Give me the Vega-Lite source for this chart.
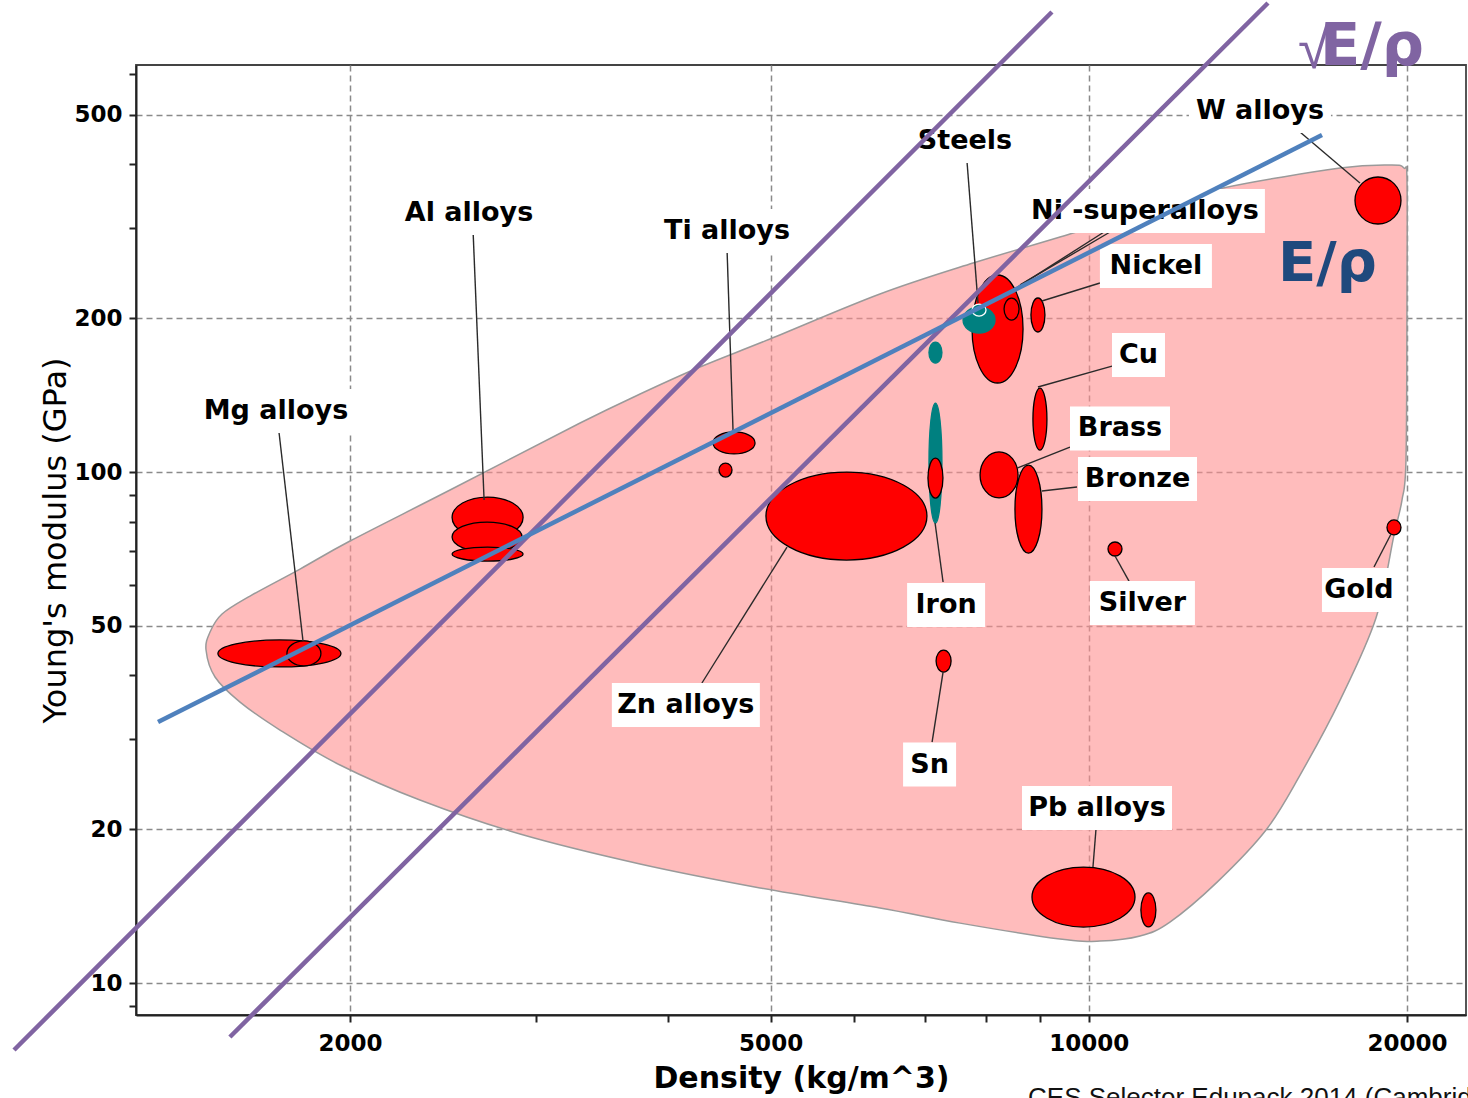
{
  "$schema": "https://vega.github.io/schema/vega-lite/v6.json",
  "width": 1330,
  "height": 950,
  "autosize": {"type": "none"},
  "padding": {"left": 136, "top": 65, "right": 2, "bottom": 83},
  "background": "white",
  "config": {"view": {"stroke": "#444444", "strokeWidth": 1.8}, "font": "DejaVu Sans"},
  "datasets": {
    "hull": [
      {"i": 1, "d": 1461.6, "E": 44.84}, {"i": 2, "d": 1474.4, "E": 48.63}, {"i": 3, "d": 1513.4, "E": 52.74},
      {"i": 4, "d": 1608.6, "E": 57.19}, {"i": 5, "d": 1793.6, "E": 64.59}, {"i": 6, "d": 2000, "E": 73.28},
      {"i": 7, "d": 2487, "E": 92.21}, {"i": 8, "d": 3301.5, "E": 124.7}, {"i": 9, "d": 3762.4, "E": 142.1},
      {"i": 10, "d": 4286.5, "E": 160.5}, {"i": 11, "d": 4993.3, "E": 182.1}, {"i": 12, "d": 6344.3, "E": 223.0},
      {"i": 13, "d": 7771.5, "E": 256.4}, {"i": 14, "d": 9391, "E": 288.3}, {"i": 15, "d": 11423, "E": 327.1},
      {"i": 16, "d": 13398, "E": 359.6}, {"i": 17, "d": 17287, "E": 393.4}, {"i": 18, "d": 19357, "E": 398.8},
      {"i": 19, "d": 19869, "E": 393.4}, {"i": 20, "d": 20000, "E": 372.8}, {"i": 21, "d": 20000, "E": 217.0},
      {"i": 22, "d": 19956, "E": 105.6}, {"i": 23, "d": 19783, "E": 88.14}, {"i": 24, "d": 19442, "E": 75.28},
      {"i": 25, "d": 18693, "E": 51.8}, {"i": 26, "d": 17287, "E": 35.79}, {"i": 27, "d": 15843, "E": 25.53},
      {"i": 28, "d": 14711, "E": 19.93}, {"i": 29, "d": 13225, "E": 15.76}, {"i": 30, "d": 11932, "E": 13.163},
      {"i": 31, "d": 11179, "E": 12.36}, {"i": 32, "d": 10247, "E": 12.08}, {"i": 33, "d": 9391, "E": 12.19},
      {"i": 34, "d": 7553, "E": 13.1}, {"i": 35, "d": 6344, "E": 14.02}, {"i": 36, "d": 4886, "E": 15.35},
      {"i": 37, "d": 3762, "E": 17.1}, {"i": 38, "d": 2896.7, "E": 19.57}, {"i": 39, "d": 2329, "E": 22.81},
      {"i": 40, "d": 1956.9, "E": 26.71}, {"i": 41, "d": 1717.1, "E": 31.27}, {"i": 42, "d": 1574, "E": 35.47},
      {"i": 43, "d": 1490.5, "E": 39.71}
    ],
    "ellipses": [
      {"id": "e1", "kind": "A", "d": 1715, "E": 44.15},
      {"id": "e2", "kind": "A", "d": 1809, "E": 44.15},
      {"id": "e3", "kind": "A", "d": 2699, "E": 81.46},
      {"id": "e4", "kind": "A", "d": 2696, "E": 74.6},
      {"id": "e5", "kind": "A", "d": 2699, "E": 69.1},
      {"id": "e6", "kind": "A", "d": 4617, "E": 114.0},
      {"id": "e7", "kind": "A", "d": 4532, "E": 100.9},
      {"id": "e8", "kind": "A", "d": 5898, "E": 82.0},
      {"id": "e9", "kind": "B", "d": 7160, "E": 104.1},
      {"id": "e10", "kind": "A", "d": 7160, "E": 97.3},
      {"id": "e11", "kind": "B", "d": 7160, "E": 171.3},
      {"id": "e12", "kind": "A", "d": 8197, "E": 190.5},
      {"id": "e13", "kind": "B", "d": 7873, "E": 198.4},
      {"id": "e14", "kind": "C", "d": 7873, "E": 207.5},
      {"id": "e15", "kind": "A", "d": 8451, "E": 208.4},
      {"id": "e16", "kind": "A", "d": 8951, "E": 202.9},
      {"id": "e17", "kind": "A", "d": 8990, "E": 126.9},
      {"id": "e18", "kind": "A", "d": 8224, "E": 98.7},
      {"id": "e19", "kind": "A", "d": 8768, "E": 84.6},
      {"id": "e20", "kind": "A", "d": 7288, "E": 42.67},
      {"id": "e21", "kind": "A", "d": 9885, "E": 14.73},
      {"id": "e22", "kind": "A", "d": 11386, "E": 13.9},
      {"id": "e23", "kind": "A", "d": 10587, "E": 70.7},
      {"id": "e24", "kind": "A", "d": 19441, "E": 77.9},
      {"id": "e25", "kind": "A", "d": 18775, "E": 339.9}
    ],
    "labels": [
      {"label": "Mg alloys", "d": 1702, "E": 131.6},
      {"label": "Al alloys", "d": 2592, "E": 321.3},
      {"label": "Ti alloys", "d": 4547, "E": 296.2},
      {"label": "Steels", "d": 7636, "E": 444.4},
      {"label": "Ni -superalloys", "d": 11300, "E": 324.2},
      {"label": "Nickel", "d": 11574, "E": 253.0},
      {"label": "Cu", "d": 11143, "E": 169.4},
      {"label": "Brass", "d": 10703, "E": 121.7},
      {"label": "Bronze", "d": 11119, "E": 96.9},
      {"label": "Iron", "d": 7328, "E": 54.92},
      {"label": "Zn alloys", "d": 4157, "E": 34.99},
      {"label": "Silver", "d": 11239, "E": 55.42},
      {"label": "Gold", "d": 18013, "E": 58.75},
      {"label": "Sn", "d": 7069, "E": 26.77},
      {"label": "Pb alloys", "d": 10180, "E": 22.0},
      {"label": "W alloys", "d": 14518, "E": 508.7}
    ],
    "leaders": [
      {"d": 1713.3, "E": 119.75, "d2": 1805.4, "E2": 46.7},
      {"d": 2615.2, "E": 294.9, "d2": 2678.5, "E2": 88.14},
      {"d": 4548, "E": 269.5, "d2": 4607.5, "E2": 119.75},
      {"d": 7670, "E": 404.3, "d2": 7855.6, "E2": 214.1},
      {"d": 10337, "E": 294.9, "d2": 8478.5, "E2": 227.1},
      {"d": 10473, "E": 294.9, "d2": 8609, "E2": 232.3},
      {"d": 10247, "E": 234.4, "d2": 9029, "E2": 216.1},
      {"d": 10518.5, "E": 161.2, "d2": 8951, "E2": 146.7},
      {"d": 9598, "E": 111.9, "d2": 8553, "E2": 101.8},
      {"d": 9746, "E": 93.47, "d2": 9029, "E2": 91.8},
      {"d": 7279.7, "E": 60.92, "d2": 7154, "E2": 79.47},
      {"d": 4305, "E": 38.65, "d2": 5182, "E2": 71.33},
      {"d": 10915, "E": 61.19, "d2": 10587, "E2": 68.49},
      {"d": 18613, "E": 65.17, "d2": 19316, "E2": 75.62},
      {"d": 7107.6, "E": 29.62, "d2": 7279.7, "E2": 40.61},
      {"d": 10158, "E": 20.02, "d2": 10091, "E2": 16.87},
      {"d": 15841, "E": 462.8, "d2": 18052, "E2": 367.8}
    ],
    "guides": [
      {"k": "sqrt", "d": 962.0, "E": 7.395, "d2": 9228, "E2": 794.8},
      {"k": "sqrt", "d": 1539.6, "E": 7.841, "d2": 14774, "E2": 827.7},
      {"k": "lin", "d": 1316.5, "E": 32.41, "d2": 16619, "E2": 456.6}
    ]
  },
  "encoding": {
    "x": {
      "field": "d", "type": "quantitative",
      "scale": {"type": "log", "domain": [1254.8, 22743], "nice": false},
      "axis": {
        "title": "Density (kg/m^3)",
        "values": [2000, 3000, 4000, 5000, 6000, 7000, 8000, 9000, 10000, 20000],
        "labelExpr": "indexof([2000,5000,10000,20000], datum.value) >= 0 ? '' + datum.value : ''",
        "labelFont": "DejaVu Sans", "labelFontWeight": "bold", "labelFontSize": 23, "labelColor": "#000000",
        "labelPadding": 10, "labelOverlap": false, "labelFlush": false,
        "tickColor": "#222222", "tickWidth": 2, "tickSize": 7,
        "domainColor": "#222222", "domainWidth": 2,
        "grid": true, "gridColor": "#8a8a8a", "gridWidth": 1.5, "gridDash": [6, 4],
        "gridOpacity": {"condition": {"test": "indexof([2000,5000,10000,20000], datum.value) >= 0", "value": 1}, "value": 0},
        "titleFont": "DejaVu Sans", "titleFontWeight": "bold", "titleFontSize": 30, "titleColor": "#000000", "titlePadding": 8
      }
    },
    "y": {
      "field": "E", "type": "quantitative",
      "scale": {"type": "log", "domain": [8.659, 625.9], "nice": false},
      "axis": {
        "title": "Young's modulus (GPa)",
        "values": [9, 10, 20, 30, 40, 50, 60, 70, 80, 90, 100, 200, 300, 400, 500, 600],
        "labelExpr": "indexof([10,20,50,100,200,500], datum.value) >= 0 ? '' + datum.value : ''",
        "labelFont": "DejaVu Sans", "labelFontWeight": "bold", "labelFontSize": 23, "labelColor": "#000000",
        "labelPadding": 7, "labelOverlap": false, "labelFlush": false,
        "tickColor": "#222222", "tickWidth": 2, "tickSize": 7,
        "domainColor": "#222222", "domainWidth": 2,
        "grid": true, "gridColor": "#8a8a8a", "gridWidth": 1.5, "gridDash": [6, 4],
        "gridOpacity": {"condition": {"test": "indexof([10,20,50,100,200,500], datum.value) >= 0", "value": 1}, "value": 0},
        "titleFont": "DejaVu Sans", "titleFontWeight": "normal", "titleFontSize": 32, "titleColor": "#000000", "titlePadding": 1
      }
    }
  },
  "resolve": {"scale": {"shape": "independent", "fill": "independent", "stroke": "independent", "color": "independent"}},
  "layer": [
    {
      "data": {"name": "hull"},
      "mark": {"type": "line", "interpolate": "cardinal-closed", "fill": "#ff8f8f", "fillOpacity": 0.6, "stroke": "#9a9a9a", "strokeWidth": 1.5},
      "encoding": {"order": {"field": "i", "type": "quantitative"}}
    },
    {
      "data": {"name": "ellipses"},
      "mark": {"type": "point", "filled": true, "size": 10000, "strokeWidth": 1.3, "opacity": 1},
      "encoding": {
        "shape": {
          "field": "id", "type": "nominal", "legend": null,
          "scale": {
            "domain": ["e1","e2","e3","e4","e5","e6","e7","e8","e9","e10","e11","e12","e13","e14","e15","e16","e17","e18","e19","e20","e21","e22","e23","e24","e25"],
            "range": [
              "M1.23,0C1.23,0.149 0.679,0.27 0,0.27C-0.679,0.27 -1.23,0.149 -1.23,0C-1.23,-0.149 -0.679,-0.27 0,-0.27C0.679,-0.27 1.23,-0.149 1.23,0Z",
              "M0.34,0C0.34,0.138 0.188,0.25 0,0.25C-0.188,0.25 -0.34,0.138 -0.34,0C-0.34,-0.138 -0.188,-0.25 0,-0.25C0.188,-0.25 0.34,-0.138 0.34,0Z",
              "M0.71,0C0.71,0.226 0.392,0.41 0,0.41C-0.392,0.41 -0.71,0.226 -0.71,0C-0.71,-0.226 -0.392,-0.41 0,-0.41C0.392,-0.41 0.71,-0.226 0.71,0Z",
              "M0.7,0C0.7,0.166 0.387,0.3 0,0.3C-0.387,0.3 -0.7,0.166 -0.7,0C-0.7,-0.166 -0.387,-0.3 0,-0.3C0.387,-0.3 0.7,-0.166 0.7,0Z",
              "M0.71,0C0.71,0.077 0.392,0.14 0,0.14C-0.392,0.14 -0.71,0.077 -0.71,0C-0.71,-0.077 -0.392,-0.14 0,-0.14C0.392,-0.14 0.71,-0.077 0.71,0Z",
              "M0.42,0C0.42,0.122 0.232,0.22 0,0.22C-0.232,0.22 -0.42,0.122 -0.42,0C-0.42,-0.122 -0.232,-0.22 0,-0.22C0.232,-0.22 0.42,-0.122 0.42,0Z",
              "M0.13,0C0.13,0.077 0.072,0.14 0,0.14C-0.072,0.14 -0.13,0.077 -0.13,0C-0.13,-0.077 -0.072,-0.14 0,-0.14C0.072,-0.14 0.13,-0.077 0.13,0Z",
              "M1.61,0C1.61,0.486 0.889,0.88 0,0.88C-0.889,0.88 -1.61,0.486 -1.61,0C-1.61,-0.486 -0.889,-0.88 0,-0.88C0.889,-0.88 1.61,-0.486 1.61,0Z",
              "M0.13,0C0.13,0.663 0.072,1.2 0,1.2C-0.072,1.2 -0.13,0.663 -0.13,0C-0.13,-0.663 -0.072,-1.2 0,-1.2C0.072,-1.2 0.13,-0.663 0.13,0Z",
              "M0.15,0C0.15,0.221 0.083,0.4 0,0.4C-0.083,0.4 -0.15,0.221 -0.15,0C-0.15,-0.221 -0.083,-0.4 0,-0.4C0.083,-0.4 0.15,-0.221 0.15,0Z",
              "M0.13,0C0.13,0.116 0.072,0.21 0,0.21C-0.072,0.21 -0.13,0.116 -0.13,0C-0.13,-0.116 -0.072,-0.21 0,-0.21C0.072,-0.21 0.13,-0.116 0.13,0Z",
              "M0.51,0C0.51,0.596 0.282,1.08 0,1.08C-0.282,1.08 -0.51,0.596 -0.51,0C-0.51,-0.596 -0.282,-1.08 0,-1.08C0.282,-1.08 0.51,-0.596 0.51,0Z",
              "M0.32,0C0.32,0.144 0.177,0.26 0,0.26C-0.177,0.26 -0.32,0.144 -0.32,0C-0.32,-0.144 -0.177,-0.26 0,-0.26C0.177,-0.26 0.32,-0.144 0.32,0Z",
              "M0.14,0C0.14,0.066 0.077,0.12 0,0.12C-0.077,0.12 -0.14,0.066 -0.14,0C-0.14,-0.066 -0.077,-0.12 0,-0.12C0.077,-0.12 0.14,-0.066 0.14,0Z",
              "M0.15,0C0.15,0.122 0.083,0.22 0,0.22C-0.083,0.22 -0.15,0.122 -0.15,0C-0.15,-0.122 -0.083,-0.22 0,-0.22C0.083,-0.22 0.15,-0.122 0.15,0Z",
              "M0.14,0C0.14,0.188 0.077,0.34 0,0.34C-0.077,0.34 -0.14,0.188 -0.14,0C-0.14,-0.188 -0.077,-0.34 0,-0.34C0.077,-0.34 0.14,-0.188 0.14,0Z",
              "M0.14,0C0.14,0.342 0.077,0.62 0,0.62C-0.077,0.62 -0.14,0.342 -0.14,0C-0.14,-0.342 -0.077,-0.62 0,-0.62C0.077,-0.62 0.14,-0.342 0.14,0Z",
              "M0.38,0C0.38,0.254 0.21,0.46 0,0.46C-0.21,0.46 -0.38,0.254 -0.38,0C-0.38,-0.254 -0.21,-0.46 0,-0.46C0.21,-0.46 0.38,-0.254 0.38,0Z",
              "M0.27,0C0.27,0.486 0.149,0.88 0,0.88C-0.149,0.88 -0.27,0.486 -0.27,0C-0.27,-0.486 -0.149,-0.88 0,-0.88C0.149,-0.88 0.27,-0.486 0.27,0Z",
              "M0.15,0C0.15,0.122 0.083,0.22 0,0.22C-0.083,0.22 -0.15,0.122 -0.15,0C-0.15,-0.122 -0.083,-0.22 0,-0.22C0.083,-0.22 0.15,-0.122 0.15,0Z",
              "M1.03,0C1.03,0.331 0.569,0.6 0,0.6C-0.569,0.6 -1.03,0.331 -1.03,0C-1.03,-0.331 -0.569,-0.6 0,-0.6C0.569,-0.6 1.03,-0.331 1.03,0Z",
              "M0.15,0C0.15,0.188 0.083,0.34 0,0.34C-0.083,0.34 -0.15,0.188 -0.15,0C-0.15,-0.188 -0.083,-0.34 0,-0.34C0.083,-0.34 0.15,-0.188 0.15,0Z",
              "M0.14,0C0.14,0.077 0.077,0.14 0,0.14C-0.077,0.14 -0.14,0.077 -0.14,0C-0.14,-0.077 -0.077,-0.14 0,-0.14C0.077,-0.14 0.14,-0.077 0.14,0Z",
              "M0.14,0C0.14,0.083 0.077,0.15 0,0.15C-0.077,0.15 -0.14,0.083 -0.14,0C-0.14,-0.083 -0.077,-0.15 0,-0.15C0.077,-0.15 0.14,-0.083 0.14,0Z",
              "M0.46,0C0.46,0.26 0.254,0.47 0,0.47C-0.254,0.47 -0.46,0.26 -0.46,0C-0.46,-0.26 -0.254,-0.47 0,-0.47C0.254,-0.47 0.46,-0.26 0.46,0Z"
            ]
          }
        },
        "fill": {"field": "kind", "type": "nominal", "legend": null, "scale": {"domain": ["A", "B", "C"], "range": ["#ff0000", "#008080", "#008080"]}},
        "stroke": {"field": "kind", "type": "nominal", "legend": null, "scale": {"domain": ["A", "B", "C"], "range": ["#000000", "#008080", "#ffffff"]}}
      }
    },
    {
      "data": {"name": "leaders"},
      "mark": {"type": "rule", "color": "#2a2a2a", "strokeWidth": 1.4},
      "encoding": {"x2": {"field": "d2"}, "y2": {"field": "E2"}}
    },
    {
      "data": {"name": "labels"},
      "mark": {"type": "point", "filled": true, "size": 10000, "fill": "#ffffff", "strokeWidth": 0, "opacity": 1},
      "encoding": {
        "shape": {
          "field": "label", "type": "nominal", "legend": null,
          "scale": {
            "domain": ["Mg alloys", "Al alloys", "Ti alloys", "Steels", "Ni -superalloys", "Nickel", "Cu", "Brass", "Bronze", "Iron", "Zn alloys", "Silver", "Gold", "Sn", "Pb alloys", "W alloys"],
            "range": [
              "M-1.57,-0.44H1.57V0.44H-1.57Z",
              "M-1.45,-0.44H1.45V0.44H-1.45Z",
              "M-1.42,-0.44H1.42V0.44H-1.42Z",
              "M-1.1,-0.44H1.1V0.44H-1.1Z",
              "M-2.4,-0.44H2.4V0.44H-2.4Z",
              "M-1.12,-0.44H1.12V0.44H-1.12Z",
              "M-0.53,-0.44H0.53V0.44H-0.53Z",
              "M-1,-0.44H1V0.44H-1Z",
              "M-1.19,-0.44H1.19V0.44H-1.19Z",
              "M-0.78,-0.44H0.78V0.44H-0.78Z",
              "M-1.48,-0.44H1.48V0.44H-1.48Z",
              "M-1.05,-0.44H1.05V0.44H-1.05Z",
              "M-0.74,-0.44H0.74V0.44H-0.74Z",
              "M-0.53,-0.44H0.53V0.44H-0.53Z",
              "M-1.5,-0.44H1.5V0.44H-1.5Z",
              "M-1.42,-0.44H1.42V0.44H-1.42Z"
            ]
          }
        }
      }
    },
    {
      "data": {"name": "labels"},
      "mark": {"type": "text", "font": "DejaVu Sans", "fontWeight": "bold", "fontSize": 27, "fill": "#000000", "align": "center", "baseline": "middle"},
      "encoding": {"text": {"field": "label"}}
    },
    {
      "data": {"name": "guides"},
      "mark": {"type": "rule", "strokeWidth": 4.5},
      "encoding": {
        "x2": {"field": "d2"}, "y2": {"field": "E2"},
        "color": {"field": "k", "type": "nominal", "legend": null, "scale": {"domain": ["sqrt", "lin"], "range": ["#8064a2", "#4f81bd"]}}
      }
    },
    {
      "data": {"values": [{"t": "√", "d": 15774, "E": 617.5}]},
      "mark": {"type": "text", "font": "Liberation Sans", "fontSize": 58, "fill": "#8064a2", "align": "left", "baseline": "alphabetic"},
      "encoding": {"text": {"field": "t"}}
    },
    {
      "data": {"values": [{"t": "E/ρ", "d": 16547, "E": 625.9}]},
      "mark": {"type": "text", "font": "DejaVu Sans", "fontWeight": "bold", "fontSize": 59, "fill": "#8064a2", "align": "left", "baseline": "alphabetic"},
      "encoding": {"text": {"field": "t"}}
    },
    {
      "data": {"values": [{"t": "E/ρ", "d": 15100, "E": 236.5}]},
      "mark": {"type": "text", "font": "DejaVu Sans", "fontWeight": "bold", "fontSize": 56, "fill": "#1f497d", "align": "left", "baseline": "alphabetic"},
      "encoding": {"text": {"field": "t"}}
    },
    {
      "data": {"values": [{"t": "CES Selector Edupack 2014 (Cambridge)", "d": 8760, "E": 5.745}]},
      "mark": {"type": "text", "font": "Liberation Sans", "fontSize": 26, "fill": "#111111", "align": "left", "baseline": "alphabetic"},
      "encoding": {"text": {"field": "t"}}
    }
  ]
}
